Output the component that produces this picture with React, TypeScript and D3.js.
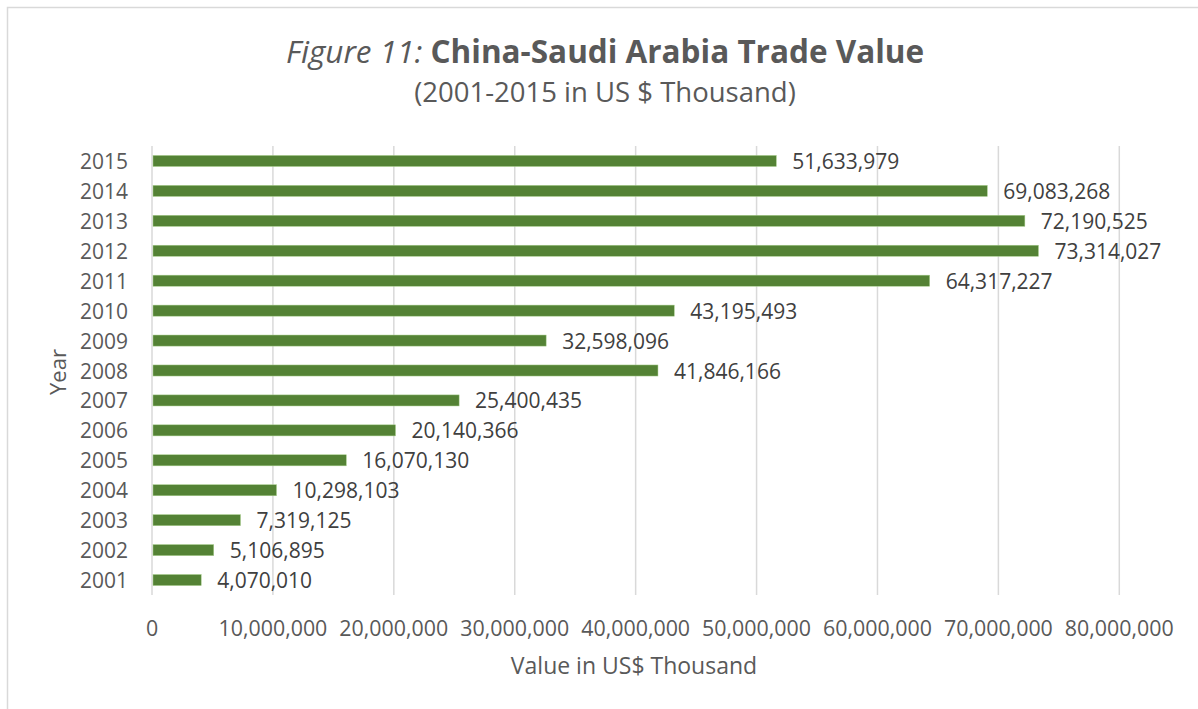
import React from "react";
import * as d3 from "d3";

const years = ["2001","2002","2003","2004","2005","2006","2007","2008","2009","2010","2011","2012","2013","2014","2015"];
const values = [4070010,5106895,7319125,10298103,16070130,20140366,25400435,41846166,32598096,43195493,64317227,73314027,72190525,69083268,51633979];
const xTicks = [0,10000000,20000000,30000000,40000000,50000000,60000000,70000000,80000000];

const W = 1198, H = 709;
const FONT = "'Open Sans', sans-serif";
const TXT = "#595959";

export default function App() {
  const x = d3.scaleLinear().domain([0, 80000000]).range([152, 1119.3]);
  const y = d3.scaleBand().domain([...years].reverse()).range([146, 595]).paddingInner(0.63).paddingOuter(0.315);
  const fmt = d3.format(",");
  const bw = y.bandwidth();
  return (
    <svg width={W} height={H} style={{ position: "fixed", left: 0, top: 0, background: "#fff" }}>
      <rect x={0} y={0} width={W} height={H} fill="#fff" />
      <rect x={7.5} y={7.5} width={W + 20} height={H + 20} fill="none" stroke="#d9d9d9" strokeWidth={1.5} />
      <text x={605} y={63} textAnchor="middle" fontFamily={FONT} fontSize={31.5} fill={TXT}>
        <tspan fontStyle="italic">Figure 11: </tspan>
        <tspan fontWeight="bold">China-Saudi Arabia Trade Value</tspan>
      </text>
      <text x={605} y={102} textAnchor="middle" fontFamily={FONT} fontSize={27.5} fill={TXT}>(2001-2015 in US $ Thousand)</text>
      {xTicks.map(t => (
        <g key={t}>
          <line x1={x(t)} x2={x(t)} y1={146} y2={595} stroke="#d9d9d9" strokeWidth={1.5} />
          <text x={x(t)} y={627} textAnchor="middle" dominantBaseline="central" fontFamily={FONT} fontSize={21.4} fill={TXT}>{fmt(t)}</text>
        </g>
      ))}
      {years.map((yr, i) => {
        const yy = y(yr)!;
        return (
          <g key={yr}>
            <rect x={x(0) + 1} y={yy} width={x(values[i]) - x(0) - 1} height={bw} fill="#548235" stroke="#a9d08e" strokeWidth={0.5} />
            <text x={128} y={yy + bw / 2} textAnchor="end" dominantBaseline="central" fontFamily={FONT} fontSize={21} fill={TXT}>{yr}</text>
            <text x={x(values[i]) + 16} y={yy + bw / 2} dominantBaseline="central" fontFamily={FONT} fontSize={21} fill="#404040">{fmt(values[i])}</text>
          </g>
        );
      })}
      <text x={634} y={665} textAnchor="middle" dominantBaseline="central" fontFamily={FONT} fontSize={23} fill={TXT}>Value in US$ Thousand</text>
      <text transform="translate(57,372) rotate(-90)" textAnchor="middle" dominantBaseline="central" fontFamily={FONT} fontSize={22} fill={TXT}>Year</text>
    </svg>
  );
}
